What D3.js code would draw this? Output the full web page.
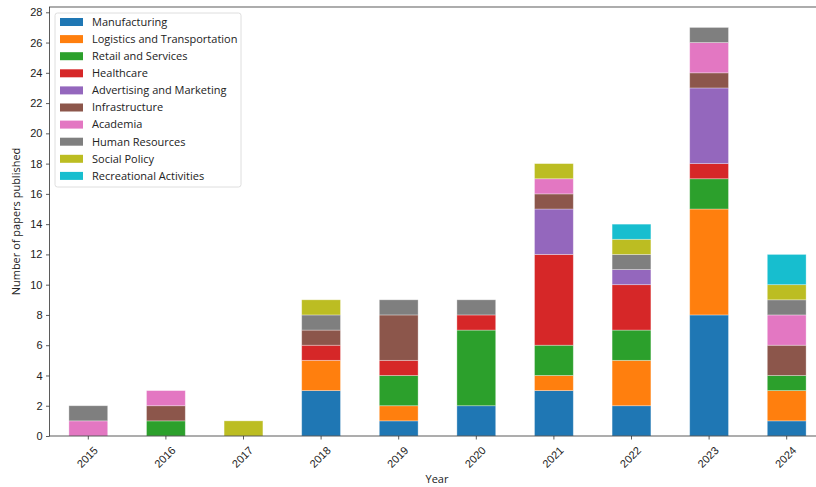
<!DOCTYPE html>
<html>
<head>
  <meta charset="utf-8">
  <script src="https://d3js.org/d3.v7.min.js"></script>
  <style>
    body { margin: 0; background: #fff; }
    svg { font-family: "Open Sans", sans-serif; display: block; }
    .tick text { font-size: 11px; fill: #222; }
  </style>
</head>
<body>
<script>
  // data
  var years = ["2015", "2016", "2017", "2018", "2019", "2020", "2021", "2022", "2023", "2024"];
  var sectors = ["Manufacturing", "Logistics and Transportation", "Retail and Services", "Healthcare",
                 "Advertising and Marketing", "Infrastructure", "Academia", "Human Resources",
                 "Social Policy", "Recreational Activities"];
  var colors = ["#1f77b4", "#ff7f0e", "#2ca02c", "#d62728", "#9467bd",
                "#8c564b", "#e377c2", "#7f7f7f", "#bcbd22", "#17becf"];

  var manufacturing = [0, 0, 0, 3, 1, 2, 3, 2, 8, 1];
  var logistics     = [0, 0, 0, 2, 1, 0, 1, 3, 7, 2];
  var retail        = [0, 1, 0, 0, 2, 5, 2, 2, 2, 1];
  var healthcare    = [0, 0, 0, 1, 1, 1, 6, 3, 1, 0];
  var advertising   = [0, 0, 0, 0, 0, 0, 3, 1, 5, 0];
  var infrastructure= [0, 1, 0, 1, 3, 0, 1, 0, 1, 2];
  var academia      = [1, 1, 0, 0, 0, 0, 1, 0, 2, 2];
  var humanRes      = [1, 0, 0, 1, 1, 1, 0, 1, 1, 1];
  var socialPolicy  = [0, 0, 1, 1, 0, 0, 1, 1, 0, 1];
  var recreational  = [0, 0, 0, 0, 0, 0, 0, 1, 0, 2];
  var yTicks = [0, 2, 4, 6, 8, 10, 12, 14, 16, 18, 20, 22, 24, 26, 28];

  (function() {
  "use strict";
  var series = [manufacturing, logistics, retail, healthcare, advertising,
                infrastructure, academia, humanRes, socialPolicy, recreational];

  var rows = years.map(function(y, i) {
    var r = { year: y };
    sectors.forEach(function(s, k) { r[s] = series[k][i]; });
    return r;
  });
  var stacked = d3.stack().keys(sectors)(rows);

  var W = 816, H = 487;
  var mLeft = 49.5, mTop = 7, mBottom = 436, mRight = 825.5;

  var svg = d3.select("body").append("svg")
      .attr("width", W).attr("height", H);

  var x = d3.scaleBand().domain(years).range([mLeft, mRight]).paddingInner(0.5).paddingOuter(0.25);
  var y = d3.scaleLinear().domain([0, 28.35]).range([mBottom, mTop]);

  // bars
  svg.append("g").selectAll("g")
    .data(stacked).enter().append("g")
      .attr("fill", function(d, k) { return colors[k]; })
    .selectAll("rect")
    .data(function(d) { return d.filter(function(p) { return p[1] - p[0] > 0; }); })
    .enter().append("rect")
      .attr("x", function(d) { return x(d.data.year); })
      .attr("width", x.bandwidth())
      .attr("y", function(d) { return y(d[1]); })
      .attr("height", function(d) { return y(d[0]) - y(d[1]); })
      .attr("stroke", "#ffffff")
      .attr("stroke-opacity", 0.4)
      .attr("stroke-width", 0.8);

  // axes
  var yAxis = svg.append("g").attr("transform", "translate(" + mLeft + ",0)")
    .call(d3.axisLeft(y).tickValues(yTicks).tickSize(3.5).tickPadding(3.5));
  var xAxis = svg.append("g").attr("transform", "translate(0," + mBottom + ")")
    .call(d3.axisBottom(x).tickSize(3.5));
  // matplotlib style: rotated 45 degrees around the label centre
  xAxis.selectAll(".tick text")
    .attr("x", 0).attr("y", 0).attr("dy", "0.35em")
    .attr("text-anchor", "middle")
    .attr("transform", "translate(-1,21) rotate(-45)");
  [xAxis, yAxis].forEach(function(a) {
    a.select(".domain").remove();
    a.selectAll(".tick line").attr("stroke", "#333").attr("stroke-width", 0.8);
  });

  // spines
  svg.append("rect")
    .attr("x", mLeft).attr("y", mTop)
    .attr("width", mRight - mLeft).attr("height", mBottom - mTop)
    .attr("fill", "none").attr("stroke", "#333").attr("stroke-width", 0.8);

  // axis labels
  svg.append("text")
    .attr("x", 437).attr("y", 479).attr("dy", "0.35em")
    .attr("text-anchor", "middle").attr("font-size", 11).attr("fill", "#222")
    .text("Year");
  svg.append("text")
    .attr("transform", "translate(16," + ((mTop + mBottom) / 2) + ") rotate(-90)")
    .attr("dy", "0.35em")
    .attr("text-anchor", "middle").attr("font-size", 11).attr("fill", "#222")
    .text("Number of papers published");

  // legend
  var lg = svg.append("g").attr("transform", "translate(55,13)");
  lg.append("rect")
    .attr("width", 186).attr("height", 174).attr("rx", 2.5)
    .attr("fill", "#fff").attr("fill-opacity", 0.8)
    .attr("stroke", "#d6d6d6").attr("stroke-width", 0.8);
  var item = lg.selectAll("g.item").data(sectors).enter().append("g")
    .attr("class", "item")
    .attr("transform", function(d, i) { return "translate(5," + (9 + i * 17.1) + ")"; });
  item.append("rect")
    .attr("y", -4).attr("width", 23).attr("height", 8)
    .attr("fill", function(d, i) { return colors[i]; });
  item.append("text")
    .attr("x", 32).attr("dy", "0.35em")
    .attr("font-size", 11).attr("fill", "#222")
    .text(function(d) { return d; });
  })();
</script>
</body>
</html>
